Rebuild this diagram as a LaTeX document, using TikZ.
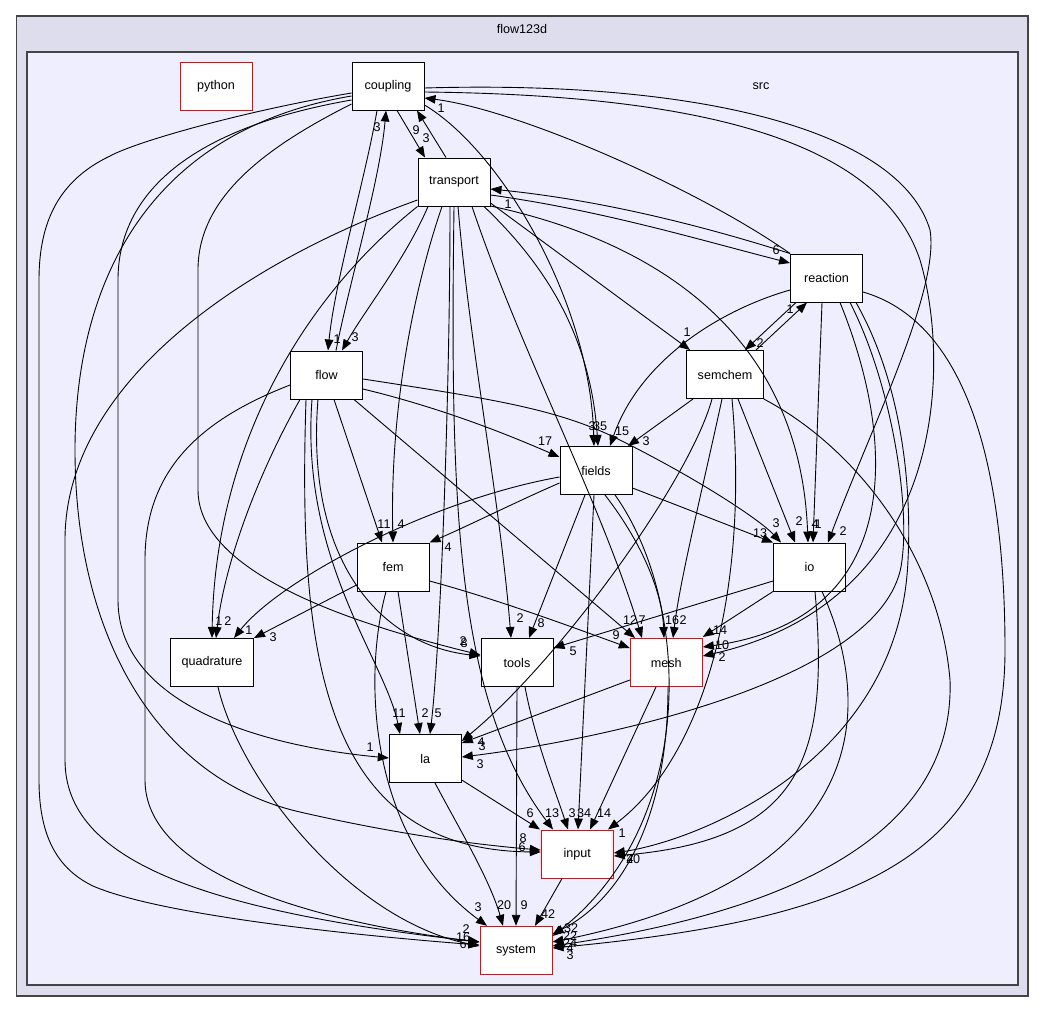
\documentclass[tikz,border=0pt]{standalone}
\usepackage{fontspec}
\setmainfont{Liberation Sans}
\usetikzlibrary{arrows.meta,calc}
\definecolor{outerfill}{HTML}{DDDDEE}
\definecolor{innerfill}{HTML}{EEEEFF}
\definecolor{clusterline}{HTML}{444444}
\begin{document}
\begin{tikzpicture}[x=1pt,y=-1pt,
  txt/.style={font=\fontsize{12.6}{15}\selectfont},
  dirnode/.style={txt,draw=black,fill=white,line width=1pt,minimum width=72pt,minimum height=48pt,inner xsep=11pt},
  reddir/.style={dirnode,draw=red},
  edge/.style={line width=0.9pt,-{Triangle[length=11pt,width=8.5pt]}},
  lbl/.style={txt,inner sep=0pt}]
\path[use as bounding box] (0,0) rectangle (1043,1012);
% clusters
\draw[clusterline,fill=outerfill,line width=1.2pt] (16.5,16) rectangle (1028,996);
\draw[clusterline,fill=innerfill,line width=1.2pt] (27,52) rectangle (1018,985);
\node[txt] (tflow) at (522,29) {flow123d};
\node[txt] (tsrc) at (761,86) {src};
% nodes
\node[reddir] (python) at (216,86) {python};
\node[dirnode] (coupling) at (388,86) {coupling};
\node[dirnode] (transport) at (454,182) {transport};
\node[dirnode] (reaction) at (826.5,278) {reaction};
\node[dirnode] (flow) at (326.5,375) {flow};
\node[dirnode] (semchem) at (725,374.5) {semchem};
\node[dirnode] (fields) at (596,470.5) {fields};
\node[dirnode] (io) at (809.5,567) {io};
\node[dirnode] (fem) at (393,567) {fem};
\node[dirnode] (quadrature) at (212,662.5) {quadrature};
\node[dirnode] (tools) at (517,662.5) {tools};
\node[reddir] (mesh) at (666.3,662.5) {mesh};
\node[dirnode] (la) at (425.3,758.5) {la};
\node[reddir] (input) at (577.3,854) {input};
\node[reddir] (system) at (516,950.3) {system};
% ---- coupling
\draw[edge] (coupling.south -| 397,0) -- (transport.north -| 425,0) node[lbl] at (416,130) {9};
\draw[edge] (transport.north -| 446,0) -- (coupling.south -| 417,0) node[lbl] at (426,138) {3};
\draw[edge] (coupling.south -| 377,0) .. controls (365,180) and (335,280) .. (flow.north -| 328,0) node[lbl] at (337,339) {1};
\draw[edge] (flow.north -| 336,0) .. controls (350,280) and (380,180) .. (coupling.south -| 386,0) node[lbl] at (377,127) {3};
\draw[edge] (coupling.west |- 0,93) .. controls (250,110) and (140,140) .. (110,156) .. controls (60,180) and (39,220) .. (39,280) -- (39,780) .. controls (39,840) and (60,870) .. (93,886) .. controls (160,915) and (350,935) .. (system.west |- 0,945);
\draw[edge] (coupling.west |- 0,96) .. controls (150,130) and (75,280) .. (75,450) .. controls (75,640) and (160,780) .. (300,812) .. controls (400,835) and (480,845) .. (input.west |- 0,850) node[lbl] at (523,838) {8};
\draw[edge] (coupling.west |- 0,100) .. controls (180,130) and (118,200) .. (118,280) -- (118,600) .. controls (118,700) and (250,745) .. (la.west |- 0,758) node[lbl] at (370,747) {1};
\draw[edge] (coupling.west |- 0,104) .. controls (260,150) and (198,200) .. (198,270) -- (198,490) .. controls (198,580) and (380,630) .. (tools.west |- 0,655) node[lbl] at (463,641) {2};
\draw[edge] (coupling.east |- 0,105) .. controls (500,150) and (590,300) .. (fields.north -| 594,0) node[lbl] at (592,426) {3};
\draw[edge] (reaction.north west) .. controls (700,190) and (520,110) .. (coupling.east |- 0,98) node[lbl] at (441,108) {1};
\draw[edge] (coupling.east |- 0,88) .. controls (700,80) and (900,130) .. (930,230) .. controls (940,290) and (870,430) .. (io.north -| 828,0) node[lbl] at (843,531) {2};
\draw[edge] (coupling.east |- 0,92) .. controls (700,95) and (880,140) .. (920,260) .. controls (950,360) and (950,600) .. (mesh.east |- 0,656) node[lbl] at (722,657) {2};
% ---- transport
\draw[edge] (transport.south -| 428,0) .. controls (405,260) and (365,310) .. (flow.north -| 342,0) node[lbl] at (355,337) {3};
\draw[edge] (transport.east |- 0,195) .. controls (600,210) and (700,240) .. (reaction.west |- 0,263) node[lbl] at (776,250) {6};
\draw[edge] (reaction.north west) .. controls (700,225) and (600,200) .. (transport.east |- 0,189) node[lbl] at (508,204) {1};
\draw[edge] (transport.east |- 0,203) -- (semchem.north -| 690,0) node[lbl] at (687,332) {1};
\draw[edge] (transport.east |- 0,206) .. controls (650,240) and (800,330) .. (io.north -| 808,0) node[lbl] at (818,524) {1};
\draw[edge] (transport.south -| 484,0) .. controls (540,260) and (590,330) .. (fields.north -| 598,0) node[lbl] at (600,426) {35};
\draw[edge] (transport.south -| 442,0) .. controls (410,300) and (390,420) .. (fem.north -| 393,0) node[lbl] at (401,524) {4};
\draw[edge] (transport.south west) .. controls (300,300) and (215,450) .. (quadrature.north -| 212,0) node[lbl] at (219,621) {1};
\draw[edge] (transport.west |- 0,200) .. controls (250,260) and (65,380) .. (65,540) -- (65,760) .. controls (65,860) and (200,910) .. (system.west |- 0,942) node[lbl] at (463,937) {16};
\draw[edge] (transport.south -| 450,0) .. controls (450,400) and (440,650) .. (la.north -| 430,0) node[lbl] at (438,713) {5};
\draw[edge] (transport.south -| 458,0) .. controls (470,350) and (500,500) .. (tools.north -| 511,0) node[lbl] at (520,618) {2};
\draw[edge] (transport.south -| 454,0) .. controls (450,500) and (455,700) .. (input.north -| 553,0) node[lbl] at (552,813) {13};
\draw[edge] (transport.south -| 472,0) .. controls (520,350) and (600,500) .. (mesh.north -| 642,0) node[lbl] at (642,620) {7};
% ---- reaction
\draw[edge] (reaction.south -| 796,0) -- (semchem.north -| 745,0) node[lbl] at (760,343) {2};
\draw[edge] (reaction.west |- 0,290) .. controls (720,310) and (640,360) .. (fields.north -| 610,0) node[lbl] at (622,431) {15};
\draw[edge] (reaction.south -| 822,0) -- (io.north -| 813,0) node[lbl] at (815,524) {4};
\draw[edge] (reaction.south -| 840,0) .. controls (900,450) and (900,620) .. (mesh.east |- 0,647) node[lbl] at (722,645) {10};
\draw[edge] (reaction.south -| 850,0) .. controls (890,380) and (910,500) .. (902,560) .. controls (890,680) and (600,740) .. (la.east |- 0,757) node[lbl] at (480,764) {3};
\draw[edge] (reaction.south -| 856,0) .. controls (900,380) and (912,480) .. (908,560) .. controls (900,760) and (700,840) .. (input.east |- 0,853) node[lbl] at (630,859) {4};
\draw[edge] (reaction.east |- 0,292) .. controls (960,320) and (1005,450) .. (1005,650) .. controls (1005,860) and (850,920) .. (system.east |- 0,948) node[lbl] at (570,955) {3};
% ---- semchem
\draw[edge] (semchem.north -| 756,0) -- (reaction.south -| 807,0) node[lbl] at (790,309) {1};
\draw[edge] (semchem.south -| 693,0) -- (fields.north -| 628,0) node[lbl] at (646,441) {3};
\draw[edge] (semchem.south -| 738,0) -- (io.north -| 795,0) node[lbl] at (799,521) {2};
\draw[edge] (semchem.south -| 722,0) .. controls (700,500) and (680,580) .. (mesh.north -| 673,0) node[lbl] at (683,620) {2};
\draw[edge] (semchem.south -| 712,0) .. controls (690,480) and (560,660) .. (la.east |- 0,741) node[lbl] at (481,742) {4};
\draw[edge] (semchem.south -| 732,0) .. controls (750,600) and (700,760) .. (input.north -| 608,0) node[lbl] at (622,833) {1};
\draw[edge] (semchem.south east) .. controls (860,450) and (940,560) .. (950,680) .. controls (955,830) and (800,910) .. (system.east |- 0,946) node[lbl] at (570,948) {4};
% ---- flow
\draw[edge] (flow.east |- 0,389) .. controls (450,410) and (520,440) .. (fields.west |- 0,457) node[lbl] at (545,441) {17};
\draw[edge] (flow.east |- 0,379) .. controls (500,400) and (560,410) .. (620,440) .. controls (700,480) and (760,520) .. (io.north -| 781,0) node[lbl] at (776,523) {3};
\draw[edge] (flow.south -| 334,0) -- (fem.north -| 382,0) node[lbl] at (384,524) {11};
\draw[edge] (flow.south -| 354,0) -- (mesh.north -| 635,0) node[lbl] at (630,620) {12};
\draw[edge] (flow.south -| 312,0) .. controls (300,560) and (385,660) .. (la.north -| 400,0) node[lbl] at (399,713) {11};
\draw[edge] (flow.south -| 318,0) .. controls (305,560) and (380,645) .. (tools.west |- 0,656) node[lbl] at (464,643) {8};
\draw[edge] (flow.south -| 306,0) .. controls (298,650) and (320,850) .. (input.west |- 0,852) node[lbl] at (522,847) {6};
\draw[edge] (flow.south -| 300,0) .. controls (260,470) and (225,560) .. (quadrature.north -| 216,0) node[lbl] at (228,621) {2};
\draw[edge] (flow.west |- 0,385) .. controls (200,420) and (145,470) .. (145,560) -- (145,780) .. controls (145,870) and (300,920) .. (system.west |- 0,942) node[lbl] at (463,944) {6};
% ---- fields
\draw[edge] (fields.west |- 0,483) .. controls (520,500) and (470,525) .. (fem.north east) node[lbl] at (448,547) {4};
\draw[edge] (fields.west |- 0,477) .. controls (430,500) and (280,580) .. (quadrature.north -| 234,0) node[lbl] at (249,630) {1};
\draw[edge] (fields.east |- 0,488) -- (io.north west) node[lbl] at (760,533) {13};
\draw[edge] (fields.south -| 585,0) -- (tools.north -| 529,0) node[lbl] at (541,623) {8};
\draw[edge] (fields.south -| 594,0) -- (input.north -| 578,0) node[lbl] at (584,813) {34};
\draw[edge] (fields.south -| 605,0) .. controls (640,540) and (662,590) .. (mesh.north -| 664,0) node[lbl] at (672,620) {16};
\draw[edge] (fields.south -| 615,0) .. controls (690,600) and (700,820) .. (system.east |- 0,936) node[lbl] at (570,943) {24};
% ---- fem
\draw[edge] (fem.west |- 0,585) -- (quadrature.north east) node[lbl] at (273,637) {3};
\draw[edge] (fem.east |- 0,581) .. controls (500,600) and (580,630) .. (mesh.west |- 0,648) node[lbl] at (616,635) {9};
\draw[edge] (fem.south -| 398,0) -- (la.north -| 420,0) node[lbl] at (425,713) {2};
\draw[edge] (fem.south -| 386,0) .. controls (362,680) and (370,840) .. (system.north -| 487,0) node[lbl] at (478,907) {3};
% ---- io
\draw[edge] (io.west |- 0,581) -- (tools.east |- 0,648) node[lbl] at (573,651) {5};
\draw[edge] (io.south west) -- (mesh.east |- 0,637) node[lbl] at (720,630) {14};
\draw[edge] (io.south -| 815,0) .. controls (830,760) and (800,840) .. (input.east |- 0,856) node[lbl] at (633,859) {20};
\draw[edge] (io.south -| 822,0) .. controls (880,720) and (860,880) .. (system.east |- 0,942) node[lbl] at (570,936) {22};
% ---- others
\draw[edge] (quadrature.south -| 218,0) .. controls (240,780) and (350,920) .. (system.west |- 0,946) node[lbl] at (466,929) {2};
\draw[edge] (tools.south -| 525,0) .. controls (535,740) and (555,790) .. (input.north -| 568,0) node[lbl] at (572,813) {3};
\draw[edge] (tools.south) -- (system.north -| 516,0) node[lbl] at (524,905) {9};
\draw[edge] (mesh.west |- 0,680) -- (la.east |- 0,743) node[lbl] at (482,746) {3};
\draw[edge] (mesh.south -| 656,0) -- (input.north -| 590,0) node[lbl] at (604,813) {14};
\draw[edge] (mesh.south -| 668,0) .. controls (668,820) and (620,900) .. (system.east |- 0,934) node[lbl] at (571,928) {32};
\draw[edge] (la.east |- 0,780) -- (input.north -| 540,0) node[lbl] at (530,813) {6};
\draw[edge] (la.south -| 435,0) .. controls (460,830) and (490,880) .. (system.north -| 503,0) node[lbl] at (504,905) {20};
\draw[edge] (input.south -| 562,0) -- (system.north -| 535,0) node[lbl] at (548,914) {42};
\end{tikzpicture}
\end{document}
